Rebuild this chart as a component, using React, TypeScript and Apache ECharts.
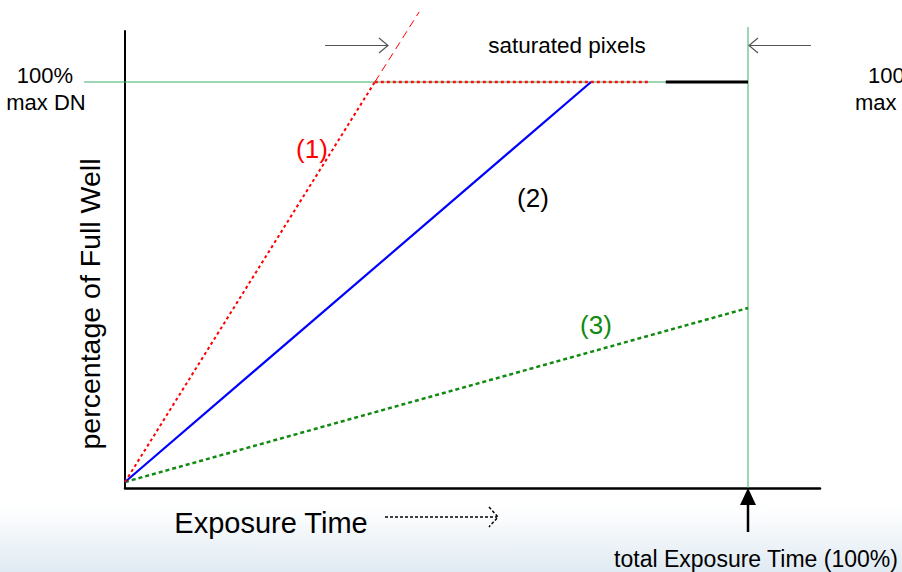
import React, { useEffect, useRef } from "react";
import * as echarts from "echarts";

// Data (x: % of total exposure time, y: % of full well)
const redRise: number[][] = [[0, 0], [40.1, 100]];
const redExtension: number[][] = [[40.1, 100], [47.2, 117.5]];
const redSaturated: number[][] = [[40.1, 100], [84.1, 100]];
const blueRise: number[][] = [[0, 0], [74.8, 100]];
const greenRise: number[][] = [[0, 0], [100, 43.5]];
const fullWellLine: number[][] = [[-6.6, 100], [100, 100]];
const totalTimeLine: number[][] = [[100, -1.5], [100, 113.75]];
const saturatedBlack: number[][] = [[86.8, 100], [100, 100]];

const xRange = [0, 111.55];
const xRangeGuide = [-6.6, 100];
const yRange = [-1.5, 112.75];

const FONT = "'Liberation Sans', Arial, sans-serif";

function lineSeries(data: number[][], color: string, width: number, type: any, z = 2, idx = 0) {
  return {
    type: "line",
    data,
    xAxisIndex: idx,
    yAxisIndex: idx,
    symbol: "none",
    clip: false,
    silent: true,
    z,
    lineStyle: { color, width, type, cap: "butt" },
  };
}

const hiddenAxis = {
  type: "value",
  show: false,
  axisLine: { show: false },
  axisTick: { show: false },
  axisLabel: { show: false },
  splitLine: { show: false },
};

export default function App() {
  const ref = useRef<HTMLDivElement>(null);
  useEffect(() => {
    if (!ref.current) return;
    const chart = echarts.init(ref.current, undefined, { renderer: "svg" });
    const txt = (text: string, x: number, y: number, size: number, color = "#000", align = "center", extra: any = {}) => ({
      type: "text",
      x,
      y,
      z: 10,
      ...extra,
      style: {
        text,
        fill: color,
        font: `${size}px ${FONT}`,
        textAlign: align,
        textVerticalAlign: "middle",
      },
    });
    chart.setOption({
      animation: false,
      backgroundColor: "#ffffff",
      grid: [
        { left: 125, right: 82, top: 31, bottom: 84, containLabel: false },
        { left: 84, right: 154, top: 31, bottom: 84, containLabel: false },
      ],
      xAxis: [
        {
          type: "value",
          gridIndex: 0,
          min: xRange[0],
          max: xRange[1],
          axisLine: { show: true, onZero: false, lineStyle: { color: "#000", width: 2.5 } },
          axisTick: { show: false },
          axisLabel: { show: false },
          splitLine: { show: false },
        },
        { ...hiddenAxis, gridIndex: 1, min: xRangeGuide[0], max: xRangeGuide[1] },
      ],
      yAxis: [
        {
          type: "value",
          gridIndex: 0,
          min: yRange[0],
          max: yRange[1],
          axisLine: { show: true, onZero: false, lineStyle: { color: "#000", width: 2 } },
          axisTick: { show: false },
          axisLabel: { show: false },
          splitLine: { show: false },
        },
        { ...hiddenAxis, gridIndex: 1, min: yRange[0], max: yRange[1] },
      ],
      series: [
        lineSeries(fullWellLine, "#3cae6a", 1, "solid", 1, 1),
        lineSeries(totalTimeLine, "#3cae6a", 1, "solid", 1, 1),
        lineSeries(saturatedBlack, "#000000", 3, "solid", 3),
        lineSeries(greenRise, "#108a10", 2.5, [4, 3], 3),
        lineSeries(blueRise, "#0000ff", 2.2, "solid", 3),
        lineSeries(redRise, "#ff0000", 2, [3, 3], 4),
        lineSeries(redSaturated, "#ff1010", 2.5, [3, 3], 4),
        lineSeries(redExtension, "#ff0000", 1, [8, 5], 4),
      ],
      graphic: [
        {
          type: "rect",
          z: -10,
          shape: { x: 0, y: 495, width: 902, height: 77 },
          style: {
            fill: new echarts.graphic.LinearGradient(0, 0, 0, 1, [
              { offset: 0, color: "rgba(255,255,255,0)" },
              { offset: 0.5, color: "rgba(240,245,249,0.9)" },
              { offset: 1, color: "rgba(224,234,242,1)" },
            ]),
          },
        },
        txt("100%", 45, 75, 22),
        txt("max DN", 46, 102, 22),
        txt("100%", 868, 75, 22, "#000", "left"),
        txt("max DN", 855, 102, 22, "#000", "left"),
        txt("saturated pixels", 567, 45, 22.5),
        txt("(1)", 312, 149, 26, "#ff0000"),
        txt("(2)", 533, 198, 26, "#000"),
        txt("(3)", 596, 325, 26, "#108a10"),
        txt("Exposure Time", 271, 523, 29),
        txt("total Exposure Time (100%)", 756, 559, 23),
        {
          type: "text",
          x: 90,
          y: 304,
          rotation: Math.PI / 2,
          z: 10,
          style: {
            text: "percentage of Full Well",
            fill: "#000",
            font: `28.5px ${FONT}`,
            textAlign: "center",
            textVerticalAlign: "middle",
          },
        },
        // top-left arrow
        { type: "line", z: 10, shape: { x1: 325, y1: 45.5, x2: 388, y2: 45.5 }, style: { stroke: "#555", lineWidth: 1.2 } },
        { type: "polyline", z: 10, shape: { points: [[379, 38], [388, 45.5], [379, 53]] }, style: { stroke: "#555", lineWidth: 1.2, fill: null } },
        // top-right arrow
        { type: "line", z: 10, shape: { x1: 811, y1: 45.5, x2: 749, y2: 45.5 }, style: { stroke: "#555", lineWidth: 1.2 } },
        { type: "polyline", z: 10, shape: { points: [[758, 38], [749, 45.5], [758, 53]] }, style: { stroke: "#555", lineWidth: 1.2, fill: null } },
        // bottom arrow
        { type: "line", z: 10, shape: { x1: 748, y1: 532, x2: 748, y2: 500 }, style: { stroke: "#000", lineWidth: 2.5 } },
        { type: "polygon", z: 10, shape: { points: [[740, 505], [748, 488], [756, 505]] }, style: { fill: "#000" } },
        // dotted arrow
        { type: "line", z: 10, shape: { x1: 385, y1: 517, x2: 497, y2: 517 }, style: { stroke: "#000", lineWidth: 1.5, lineDash: [3, 2] } },
        { type: "polyline", z: 10, shape: { points: [[489, 507], [498, 517], [489, 527]] }, style: { stroke: "#000", lineWidth: 1.5, lineDash: [3, 2], fill: null } },
      ],
    });
    return () => chart.dispose();
  }, []);
  return <div ref={ref} style={{ position: "fixed", left: 0, top: 0, width: 902, height: 572 }} />;
}
